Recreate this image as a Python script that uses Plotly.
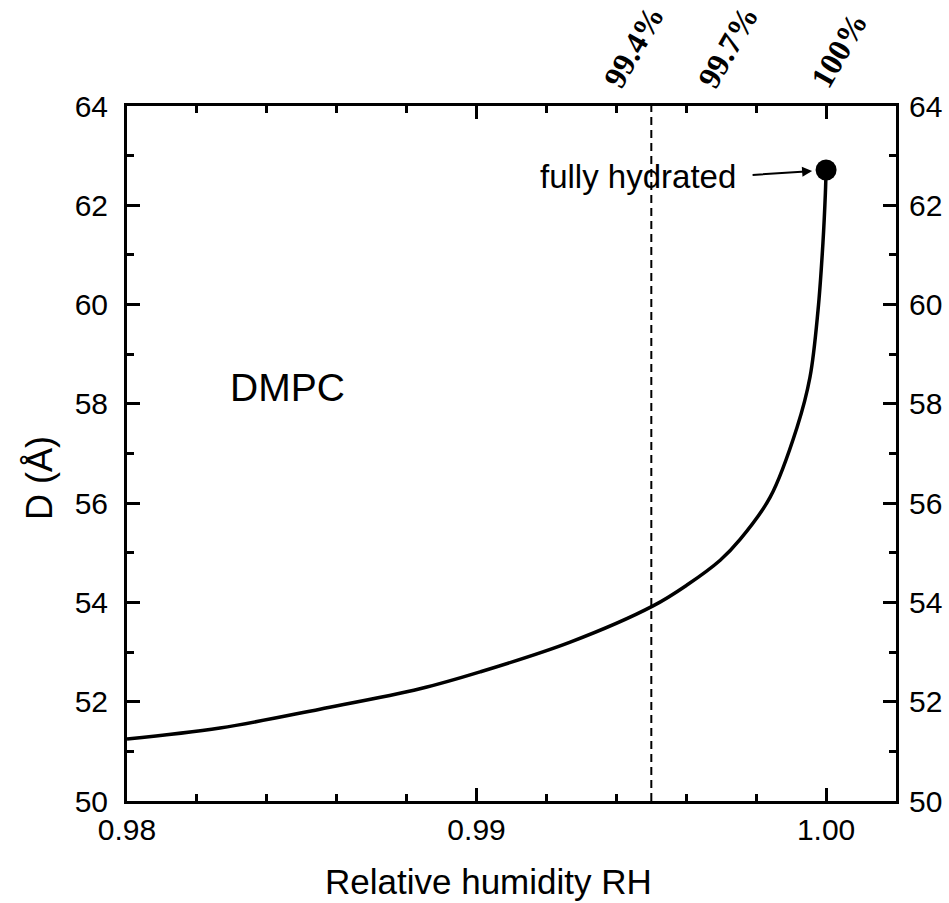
import plotly.graph_objects as go

# Data
rh = [0.98000, 0.98266, 0.98552, 0.98838, 0.99010, 0.99268, 0.99505, 0.99602,
      0.99697, 0.99754, 0.99840, 0.99917, 0.99954, 0.99977, 0.99991, 0.99998, 1.00000]
d_spacing = [51.25, 51.47, 51.85, 52.26, 52.60, 53.20, 53.93, 54.35,
             54.85, 55.27, 56.12, 57.53, 58.54, 59.89, 61.24, 62.25, 62.71]
full_rh = [1.0000]
full_d = [62.71]
dashed_rh = 0.995
x_ticks = [0.98, 0.99, 1.00]
x_ticktext = ["0.98", "0.99", "1.00"]
y_ticks = [50, 52, 54, 56, 58, 60, 62, 64]
top_labels = ["99.4%", "99.7%", "100%"]
top_label_pos = [0.6587, 0.7815, 0.9259]

W, H = 949, 903
ML, MR, MT, MB = 127, 53, 106, 102
font_sans = "Liberation Sans, Arial, sans-serif"

fig = go.Figure()
fig.add_trace(go.Scatter(x=rh, y=d_spacing, mode="lines",
                         line=dict(color="black", width=3.5, shape="spline", smoothing=1.0),
                         showlegend=False, hoverinfo="skip"))
fig.add_trace(go.Scatter(x=full_rh, y=full_d, mode="markers",
                         marker=dict(color="black", size=21),
                         showlegend=False))
# invisible trace on right axis
fig.add_trace(go.Scatter(x=[rh[0]], y=[d_spacing[0]], yaxis="y2", mode="markers",
                         marker=dict(opacity=0), showlegend=False, hoverinfo="skip"))

fig.add_shape(type="line", x0=dashed_rh, x1=dashed_rh, y0=0, y1=1,
              xref="x", yref="paper", line=dict(color="black", width=2, dash="8px,5px"))

axis_common = dict(showgrid=False, zeroline=False, showline=True, linecolor="black",
                   linewidth=3, ticks="inside", tickcolor="black", tickwidth=2.5,
                   ticklen=13, automargin=False,
                   tickfont=dict(family=font_sans, size=30, color="black"))

fig.update_layout(
    width=W, height=H,
    margin=dict(l=ML, r=MR, t=MT, b=MB, pad=0, autoexpand=False),
    paper_bgcolor="white", plot_bgcolor="white",
    font=dict(family=font_sans, color="black"),
    xaxis=dict(range=[0.98, 1.002], tickvals=x_ticks, ticktext=x_ticktext,
               mirror="ticks",
               minor=dict(dtick=0.002, tick0=0.98, ticks="inside", ticklen=7,
                          tickwidth=2.5, tickcolor="black"),
               **axis_common),
    yaxis=dict(range=[50, 64], tickvals=y_ticks, mirror="ticks",
               minor=dict(dtick=1, tick0=50, ticks="inside", ticklen=7,
                          tickwidth=2.5, tickcolor="black"),
               ticklabelstandoff=10,
               **axis_common),
    yaxis2=dict(range=[50, 64], tickvals=y_ticks, overlaying="y", side="right",
                ticklabelstandoff=4, **axis_common),
)

# axis titles
fig.add_annotation(x=0.4707, y=-0.1165, xref="paper", yref="paper",
                   text="Relative humidity RH", showarrow=False,
                   xanchor="center", yanchor="middle",
                   font=dict(family=font_sans, size=35, color="black"))
fig.add_annotation(x=-0.1144, y=0.4647, xref="paper", yref="paper",
                   text="D (Å)", showarrow=False, textangle=-90,
                   xanchor="center", yanchor="middle",
                   font=dict(family=font_sans, size=36, color="black"))

fig.add_annotation(x=0.99748, y=62.58, xref="x", yref="y", text="fully hydrated",
                   showarrow=False, xanchor="right", yanchor="middle",
                   font=dict(family=font_sans, size=33, color="black"))
fig.add_annotation(x=1.0, y=62.71, xref="x", yref="y", text="",
                   showarrow=True, ax=-75, ay=5, standoff=14,
                   arrowhead=2, arrowsize=1, arrowwidth=2, arrowcolor="black")
fig.add_annotation(x=0.98289, y=58.33, xref="x", yref="y", text="DMPC",
                   showarrow=False, xanchor="left", yanchor="middle",
                   font=dict(family=font_sans, size=39, color="black"))

for lab, px, py in zip(top_labels, top_label_pos, [1.0849, 1.0849, 1.0806]):
    fig.add_annotation(x=px, y=py, xref="paper", yref="paper", text="<b>%s</b>" % lab,
                       showarrow=False, textangle=-60, xanchor="center", yanchor="middle",
                       font=dict(family="Liberation Serif, Times New Roman, serif",
                                 size=32, color="black"))

fig.write_html("out.html")
